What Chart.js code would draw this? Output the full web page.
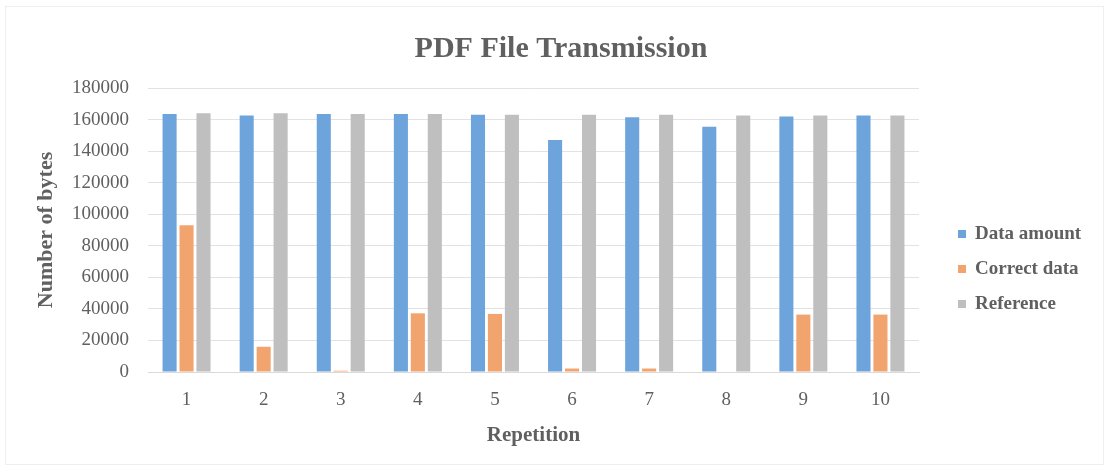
<!DOCTYPE html>
<html>
<head>
<meta charset="utf-8">
<script src="https://cdn.jsdelivr.net/npm/chart.js@4/dist/chart.umd.min.js"></script>
<style>
  html, body { margin: 0; padding: 0; background: #ffffff; }
  #wrap { width: 1107px; height: 468px; position: relative; }
</style>
</head>
<body>
<div id="wrap"><canvas id="pdfChart" width="1107" height="468"></canvas></div>
<script>
// Chart data
const repetitions = ["1", "2", "3", "4", "5", "6", "7", "8", "9", "10"];
const dataAmount = [163500, 162500, 163500, 163500, 163000, 147000, 161500, 155500, 162000, 162500];
const correctData = [93000, 16000, 800, 37200, 36800, 2200, 2200, 0, 36400, 36400];
const referenceData = [164000, 164000, 163500, 163500, 163000, 163000, 163000, 162500, 162500, 162500];
const yTicks = [0, 20000, 40000, 60000, 80000, 100000, 120000, 140000, 160000, 180000];

const textColor = "#606060";
const serif = "'Liberation Serif', 'DejaVu Serif', serif";

// faint frame around the whole chart, as in the scanned figure
const chartFrame = {
  id: "chartFrame",
  beforeDraw(chart) {
    const c = chart.ctx;
    c.save();
    c.strokeStyle = "#eeeeee";
    c.lineWidth = 1;
    c.strokeRect(5.5, 6.5, chart.width - 9, chart.height - 10);
    c.restore();
  },
};

// Legend drawn at the right of the plot, Excel style
const sideLegend = {
  id: "sideLegend",
  afterDraw(chart) {
    const c = chart.ctx;
    const area = chart.chartArea;
    const sets = chart.data.datasets;
    const spacing = 35;
    const midY = (area.top + area.bottom) / 2 + 39;
    const startY = midY - ((sets.length - 1) * spacing) / 2;
    const x = area.right + 39;
    c.save();
    c.font = "bold 19px " + serif;
    c.textBaseline = "middle";
    c.textAlign = "left";
    sets.forEach((ds, i) => {
      const y = startY + i * spacing;
      c.fillStyle = ds.backgroundColor;
      c.fillRect(x, y - 4, 8, 8);
      c.fillStyle = textColor;
      c.fillText(ds.label, x + 17, y);
    });
    c.restore();
  },
};

const ctx = document.getElementById("pdfChart").getContext("2d");

new Chart(ctx, {
  type: "bar",
  data: {
    labels: repetitions,
    datasets: [
      {
        label: "Data amount",
        data: dataAmount,
        backgroundColor: "#6ea4dc",
      },
      {
        label: "Correct data",
        data: correctData,
        backgroundColor: "#f2a46f",
      },
      {
        label: "Reference",
        data: referenceData,
        backgroundColor: "#bfbfbf",
      },
    ],
  },
  options: {
    responsive: false,
    animation: false,
    maintainAspectRatio: false,
    datasets: {
      bar: {
        categoryPercentage: 0.66,
        barPercentage: 0.83,
      },
    },
    layout: {
      padding: { left: 15, right: 0, top: 18, bottom: 16 },
    },
    plugins: {
      title: {
        display: true,
        text: "PDF File Transmission",
        color: textColor,
        font: { family: serif, size: 30, weight: "bold" },
        padding: { top: 13, bottom: 21 },
      },
      legend: { display: false },
      tooltip: { enabled: false },
    },
    scales: {
      x: {
        grid: { display: false },
        border: { color: "#d9d9d9" },
        ticks: {
          color: textColor,
          font: { family: serif, size: 19 },
          padding: 9,
        },
        title: {
          display: true,
          text: "Repetition",
          color: textColor,
          font: { family: serif, size: 21, weight: "bold" },
          padding: { top: 2 },
        },
      },
      y: {
        min: 0,
        max: 180000,
        afterBuildTicks: function (axis) {
          axis.ticks = yTicks.map((v) => ({ value: v }));
        },
        afterFit: function (axis) {
          axis.width = 133;
        },
        grid: { color: "#e2e2e2", drawTicks: false },
        border: { display: false },
        ticks: {
          color: textColor,
          font: { family: serif, size: 19 },
          padding: 19,
          callback: (value) => String(value),
        },
        title: {
          display: true,
          text: "Number of bytes",
          color: textColor,
          font: { family: serif, size: 22, weight: "bold" },
          padding: { top: 18, bottom: 4 },
        },
      },
      // empty axis on the right that keeps room for the legend
      legendSpace: {
        type: "linear",
        position: "right",
        display: true,
        grid: { display: false },
        border: { display: false },
        ticks: { display: false },
        afterFit: function (axis) {
          axis.width = 188;
        },
      },
    },
  },
  plugins: [chartFrame, sideLegend],
});
</script>
</body>
</html>
